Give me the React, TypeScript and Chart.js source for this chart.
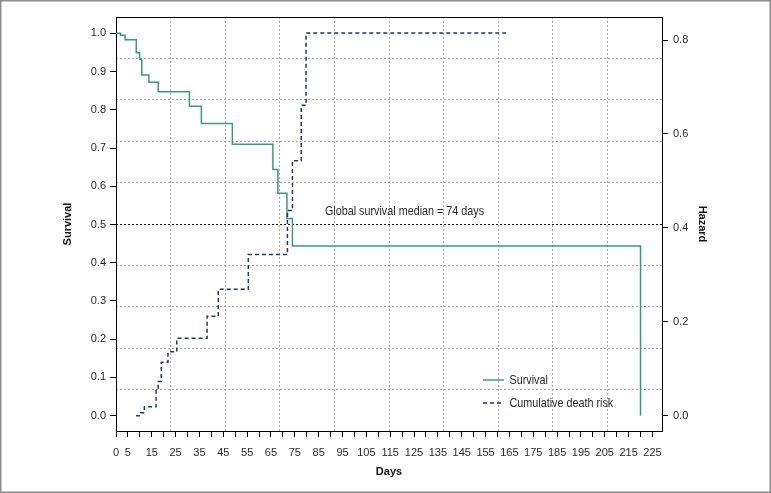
import { useEffect, useRef } from 'react';
import { Chart, registerables } from 'chart.js';

Chart.register(...registerables);

// Kaplan-Meier survival (left axis)
const survivalDays = [0, 1.9, 3.8, 8.5, 9.9, 10.8, 13.8, 17.7, 30.8, 35.8, 48.8, 65.8, 67.9, 71.7, 74, 220];
const survivalValues = [1.0, 0.995, 0.983, 0.949, 0.932, 0.891, 0.872, 0.847, 0.809, 0.764, 0.710, 0.644, 0.582, 0.516, 0.444, 0.0];

// Cumulative death risk (right axis)
const hazardDays = [8.4, 10.3, 11.9, 16.8, 17.7, 19.0, 21.8, 25.5, 38.2, 42.9, 55.5, 71.9, 74.0, 77.7, 79.7, 163.6];
const hazardValues = [0.0, 0.006, 0.019, 0.057, 0.073, 0.114, 0.136, 0.165, 0.212, 0.269, 0.343, 0.437, 0.543, 0.661, 0.815, 0.815];

const dayTicks = [0, 5, 10, 15, 20, 25, 30, 35, 40, 45, 50, 55, 60, 65, 70, 75, 80, 85, 90, 95, 100, 105, 110, 115, 120, 125, 130, 135, 140, 145, 150, 155, 160, 165, 170, 175, 180, 185, 190, 195, 200, 205, 210, 215, 220, 225];
const dayLabels = [0, 5, 15, 25, 35, 45, 55, 65, 75, 85, 95, 105, 115, 125, 135, 145, 155, 165, 175, 185, 195, 205, 215, 225];
const survivalTicks = [0.0, 0.1, 0.2, 0.3, 0.4, 0.5, 0.6, 0.7, 0.8, 0.9, 1.0];
const hazardTicks = [0.0, 0.2, 0.4, 0.6, 0.8];

const MEDIAN_SURVIVAL = 0.5;
const MEDIAN_DAYS = 74;
const DAY_MIN = 0;
const DAY_MAX = 229;

const FONT = '"Liberation Sans Narrow", "Liberation Sans", Arial, sans-serif';
const GREEN = '#3a9b7b';
const NAVY = '#23375a';
const TEXT = '#2a2a2a';
const NARROW = 0.83;

function narrowText(ctx: CanvasRenderingContext2D, text: string, x: number, y: number, align: 'left' | 'center') {
  ctx.save();
  ctx.translate(x, y);
  ctx.scale(NARROW, 1);
  ctx.textAlign = align;
  ctx.fillText(text, 0, 0);
  ctx.restore();
}

const annotationPlugin = {
  id: 'kmAnnotations',
  beforeDatasetsDraw(chart: any) {
    const { ctx, chartArea } = chart;
    ctx.save();
    ctx.strokeStyle = '#000';
    ctx.lineWidth = 1;
    ctx.strokeRect(chartArea.left + 0.5, chartArea.top + 0.5, chartArea.right - chartArea.left, chartArea.bottom - chartArea.top);
    ctx.restore();
  },
  afterDatasetsDraw(chart: any) {
    const { ctx, chartArea, scales } = chart;
    ctx.save();
    ctx.font = `13px ${FONT}`;
    ctx.fillStyle = TEXT;
    ctx.textBaseline = 'middle';
    narrowText(
      ctx,
      `Global survival median = ${MEDIAN_DAYS} days`,
      scales.x.getPixelForValue(121),
      scales.y.getPixelForValue(0.533),
      'center'
    );
    // legend
    const lx = chartArea.right - 179;
    const rows = [
      { y: chartArea.bottom - 51, label: 'Survival', color: GREEN, dash: [] as number[] },
      { y: chartArea.bottom - 28, label: 'Cumulative death risk', color: NAVY, dash: [4, 3] },
    ];
    rows.forEach((r) => {
      ctx.beginPath();
      ctx.setLineDash(r.dash);
      ctx.strokeStyle = r.color;
      ctx.lineWidth = 1.5;
      ctx.moveTo(lx, r.y);
      ctx.lineTo(lx + 21, r.y);
      ctx.stroke();
      ctx.setLineDash([]);
      ctx.fillStyle = TEXT;
      narrowText(ctx, r.label, lx + 26.5, r.y, 'left');
    });
    ctx.restore();
  },
  afterDraw(chart: any) {
    const { ctx, width, height } = chart;
    ctx.save();
    ctx.strokeStyle = '#8c8c8c';
    ctx.lineWidth = 1.5;
    ctx.strokeRect(0.75, 0.75, width - 1.5, height - 1.5);
    ctx.restore();
  },
};

export default function App() {
  const canvasRef = useRef<HTMLCanvasElement | null>(null);

  useEffect(() => {
    document.body.style.margin = '0';
    const canvas = canvasRef.current;
    if (!canvas) return;
    const tickFont = { family: FONT, size: 11 };
    const titleFont = { family: FONT, size: 11, weight: 'bold' as const };

    const chart = new Chart(canvas, {
      type: 'line',
      data: {
        datasets: [
          {
            label: 'Cumulative death risk',
            data: hazardDays.map((d, i) => ({ x: d, y: hazardValues[i] })),
            yAxisID: 'y2',
            xAxisID: 'x',
            stepped: 'before',
            borderColor: NAVY,
            borderWidth: 1.5,
            borderDash: [4, 3],
            pointRadius: 0,
            fill: false,
          },
          {
            label: 'Survival',
            data: survivalDays.map((d, i) => ({ x: d, y: survivalValues[i] })),
            yAxisID: 'y',
            xAxisID: 'x',
            stepped: 'before',
            borderColor: GREEN,
            borderWidth: 1.5,
            pointRadius: 0,
            fill: false,
          },
          {
            label: 'Median',
            data: [
              { x: DAY_MIN, y: MEDIAN_SURVIVAL },
              { x: DAY_MAX, y: MEDIAN_SURVIVAL },
            ],
            yAxisID: 'y',
            xAxisID: 'x',
            borderColor: '#111',
            borderWidth: 1,
            borderDash: [2, 2],
            pointRadius: 0,
            fill: false,
          },
        ],
      },
      options: {
        animation: false,
        responsive: true,
        maintainAspectRatio: false,
        layout: { padding: { top: 17, left: 0, right: 0, bottom: 0 } },
        plugins: {
          legend: { display: false },
          tooltip: { enabled: false },
        },
        scales: {
          gx: {
            type: 'linear',
            position: 'bottom',
            min: 0,
            max: 10,
            ticks: { display: false, stepSize: 1 },
            grid: { color: '#a6a6a6', lineWidth: 1, drawTicks: false },
            border: { display: false, dash: [2, 2] },
            afterFit: (s: any) => { s.height = 0; },
          },
          gy: {
            type: 'linear',
            position: 'left',
            min: 0,
            max: 10,
            ticks: { display: false, stepSize: 1 },
            grid: { color: '#a6a6a6', lineWidth: 1, drawTicks: false },
            border: { display: false, dash: [2, 2] },
            afterFit: (s: any) => { s.width = 0; },
          },
          x: {
            type: 'linear',
            position: 'bottom',
            min: DAY_MIN,
            max: DAY_MAX,
            afterBuildTicks: (s: any) => { s.ticks = dayTicks.map((v) => ({ value: v })); },
            ticks: {
              autoSkip: false,
              maxRotation: 0,
              minRotation: 0,
              padding: 9,
              color: TEXT,
              font: tickFont,
              callback: (v: any) => (dayLabels.includes(Number(v)) ? String(v) : ''),
            },
            grid: { drawOnChartArea: false, tickLength: 6, tickColor: '#000', color: '#000' },
            border: { color: '#000', width: 1 },
            title: { display: true, text: 'Days', color: '#111', font: titleFont, padding: { top: 0, bottom: 14 } },
            afterFit: (s: any) => { s.height = 62; },
          },
          y: {
            type: 'linear',
            position: 'left',
            min: -0.040,
            max: 1.0426,
            afterBuildTicks: (s: any) => { s.ticks = survivalTicks.map((v) => ({ value: v })); },
            ticks: {
              padding: 4,
              color: TEXT,
              font: tickFont,
              callback: (v: any) => Number(v).toFixed(1),
            },
            grid: { drawOnChartArea: false, tickLength: 6, tickColor: '#000', color: '#000' },
            border: { color: '#000', width: 1 },
            title: { display: true, text: 'Survival', color: '#111', font: titleFont, padding: { top: 61, bottom: 0 } },
            afterFit: (s: any) => { s.width = 116; },
          },
          y2: {
            type: 'linear',
            position: 'right',
            min: -0.0326,
            max: 0.849,
            afterBuildTicks: (s: any) => { s.ticks = hazardTicks.map((v) => ({ value: v })); },
            ticks: {
              padding: 5,
              color: TEXT,
              font: tickFont,
              callback: (v: any) => Number(v).toFixed(1),
            },
            grid: { drawOnChartArea: false, tickLength: 6, tickColor: '#000', color: '#000' },
            border: { color: '#000', width: 1 },
            title: { display: true, text: 'Hazard', color: '#111', font: titleFont, padding: { top: 62, bottom: 0 } },
            afterFit: (s: any) => { s.width = 109; },
          },
        },
      },
      plugins: [annotationPlugin],
    });
    return () => chart.destroy();
  }, []);

  return (
    <div style={{ position: 'relative', width: '771px', height: '493px' }}>
      <canvas ref={canvasRef} />
    </div>
  );
}
